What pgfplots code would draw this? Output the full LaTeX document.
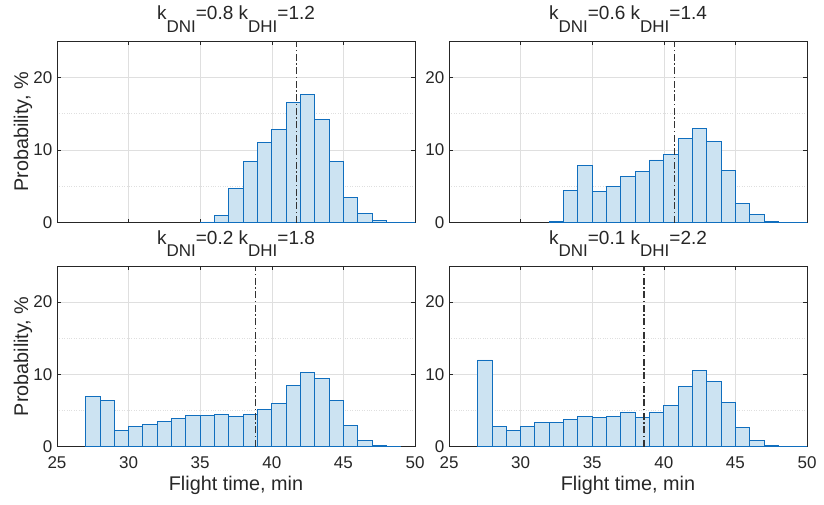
\documentclass[border=0pt]{standalone}
\usepackage{fontspec}
\setmainfont{Liberation Sans}
\usepackage{pgfplots}
\pgfplotsset{compat=1.18}

\definecolor{barfill}{RGB}{204,227,242}
\definecolor{baredge}{RGB}{16,110,190}
\definecolor{axcol}{RGB}{38,38,38}
\definecolor{gridcol}{RGB}{223,223,223}
\definecolor{meancol}{RGB}{50,50,50}

\newcommand{\sub}[1]{\raisebox{-12.5pt}{\fontsize{17}{17}\selectfont #1}}

\pgfplotsset{
  panel/.style={
    scale only axis, width=358pt, height=181.5pt,
    xmin=25, xmax=50, ymin=0, ymax=25,
    xtick={25,30,...,50}, ytick={0,10,20}, minor ytick={5,15},
    grid=both,
    major grid style={gridcol, line width=0.6pt},
    minor grid style={gridcol, dotted, line width=0.6pt},
    minor tick length=0pt, major tick length=4pt, tick align=inside,
    axis line style={axcol, line width=0.6pt},
    tick style={axcol, line width=0.6pt},
    /pgf/number format/assume math mode=true,
    tick label style={font=\fontsize{17}{17}\selectfont, text=axcol},
    xticklabel style={anchor=base, yshift=-21.6pt, inner sep=0pt},
    yticklabel style={anchor=east, xshift=-4.5pt, inner sep=0pt},
    label style={font=\fontsize{19.8}{19.8}\selectfont, text=axcol},
    xlabel style={at={(axis description cs:0.5,-0.244)}, anchor=base},
    ylabel style={at={(axis description cs:-0.081,0.5)}, anchor=base},
    title style={at={(axis description cs:0.5,1.0864)}, anchor=base,
      font=\fontsize{19}{19}\selectfont, text=axcol, inner sep=0pt},
  },
  histo/.style={ybar interval, fill=barfill, draw=baredge, line width=0.9pt},
  meanline/.style={color=meancol, line width=1.1pt,
    dash pattern=on 7pt off 2.5pt on 1.5pt off 2.5pt},
}

\begin{document}
\begin{tikzpicture}
\useasboundingbox (0,0) rectangle (824pt,504pt);

% top left
\begin{axis}[panel, at={(57pt,281.3pt)}, anchor=south west,
  xticklabels={}, ylabel={Probability, \%},
  title={k\sub{DNI}=0.8 k\sub{DHI}=1.2}]
\addplot[histo] coordinates {
(35,0.10) (36,0.97) (37,4.69) (38,8.46) (39,11.08) (40,12.87) (41,16.55)
(42,17.60) (43,14.16) (44,8.41) (45,3.45) (46,1.29) (47,0.28) (48,0.09)
(49,0.02) (50,0.02)};
\addplot[meanline] coordinates {(41.74,0) (41.74,25)};
\end{axis}

% top right
\begin{axis}[panel, at={(449pt,281.3pt)}, anchor=south west,
  xticklabels={},
  title={k\sub{DNI}=0.6 k\sub{DHI}=1.4}]
\addplot[histo] coordinates {
(32,0.14) (33,4.41) (34,7.82) (35,4.28) (36,4.97) (37,6.34) (38,7.03)
(39,8.64) (40,9.38) (41,11.63) (42,12.97) (43,11.17) (44,7.17) (45,2.67)
(46,1.10) (47,0.14) (48,0.05) (49,0.02) (50,0.02)};
\addplot[meanline] coordinates {(40.76,0) (40.76,25)};
\end{axis}

% bottom left
\begin{axis}[panel, at={(57pt,57.3pt)}, anchor=south west, height=180.7pt,
  xlabel={Flight time, min}, ylabel={Probability, \%},
  title={k\sub{DNI}=0.2 k\sub{DHI}=1.8}]
\addplot[histo] coordinates {
(27,6.99) (28,6.34) (29,2.21) (30,2.80) (31,3.13) (32,3.49) (33,3.91)
(34,4.32) (35,4.32) (36,4.51) (37,4.23) (38,4.46) (39,5.10) (40,5.93)
(41,8.46) (42,10.21) (43,9.38) (44,6.39) (45,2.94) (46,0.87) (47,0.18)
(48,0.05) (49,0.05)};
\addplot[meanline] coordinates {(38.85,0) (38.85,25)};
\end{axis}

% bottom right
\begin{axis}[panel, at={(449pt,57.3pt)}, anchor=south west, height=180.7pt,
  xlabel={Flight time, min},
  title={k\sub{DNI}=0.1 k\sub{DHI}=2.2}]
\addplot[histo] coordinates {
(27,12.00) (28,2.76) (29,2.25) (30,2.80) (31,3.31) (32,3.40) (33,3.72)
(34,4.23) (35,4.05) (36,4.14) (37,4.69) (38,4.05) (39,4.78) (40,5.75)
(41,8.28) (42,10.57) (43,8.97) (44,6.11) (45,2.67) (46,0.87) (47,0.18)
(48,0.05) (49,0.02) (50,0.02)};
\addplot[meanline] coordinates {(38.62,0) (38.62,25)};
\end{axis}
\end{tikzpicture}
\end{document}
